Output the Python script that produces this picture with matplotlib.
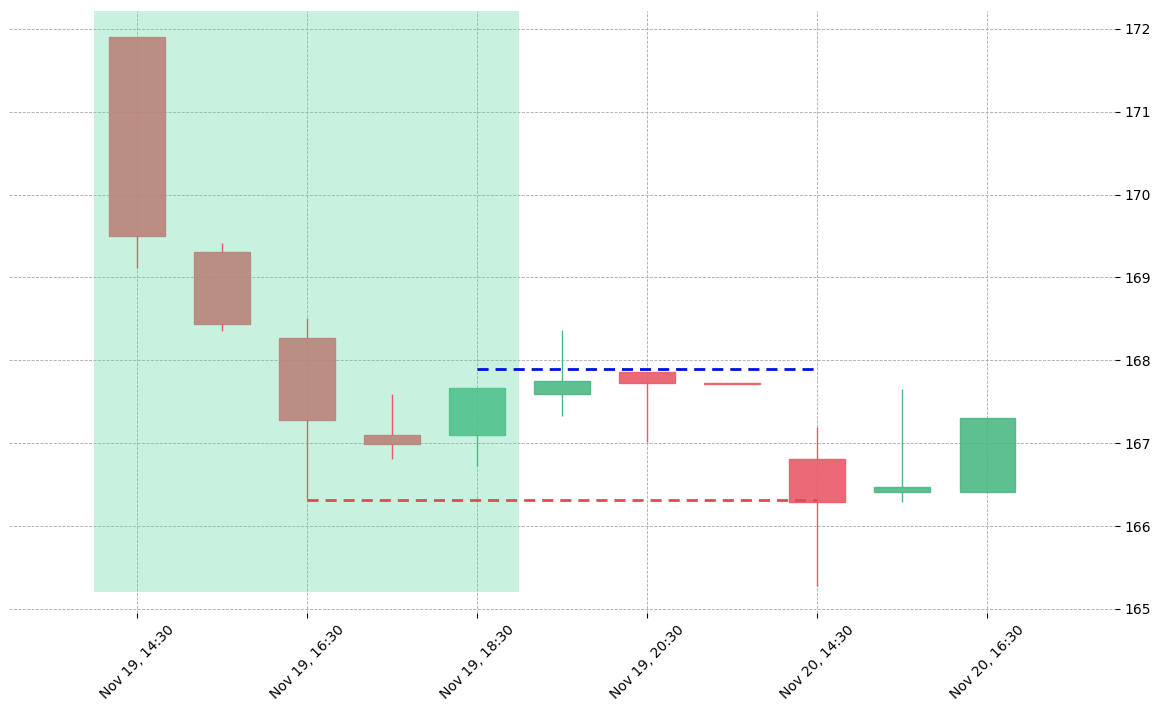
import matplotlib
matplotlib.use("Agg")
import matplotlib.pyplot as plt
from matplotlib.patches import Rectangle

labels = ["Nov 19, 14:30","Nov 19, 15:30","Nov 19, 16:30","Nov 19, 17:30","Nov 19, 18:30",
          "Nov 19, 19:30","Nov 19, 20:30","Nov 19, 21:30","Nov 20, 14:30","Nov 20, 15:30","Nov 20, 16:30"]
opens  = [171.90,169.31,168.27,167.10,167.10,167.59,167.86,167.73,166.81,166.41,166.41]
closes = [169.50,168.44,167.28,166.99,167.67,167.75,167.73,167.72,166.29,166.47,167.30]
highs  = [171.90,169.42,168.51,167.59,167.67,168.36,167.86,167.73,167.20,167.65,167.30]
lows   = [169.12,168.35,166.32,166.81,166.73,167.33,167.02,167.72,165.28,166.29,166.41]
res_level = 167.90
sup_level = 166.32

fig = plt.figure(figsize=(11.66,7.12), dpi=100)
ax = fig.add_axes([0.008,0.139,0.948,0.846])
red = '#ea5a68'; green = '#4cb884'
w = 0.65
for i,(o,c,h,l) in enumerate(zip(opens,closes,highs,lows)):
    col = green if c >= o else red
    top, bot = max(o,c), min(o,c)
    if h > top:
        ax.vlines(i, top, h, color=col, lw=1, zorder=4)
    if l < bot:
        ax.vlines(i, l, bot, color=col, lw=1, zorder=4)
    ax.add_patch(Rectangle((i-w/2, bot), w, max(top-bot,0.012), facecolor=col,
                           edgecolor=col, alpha=0.9, lw=1, zorder=2))
ax.add_patch(Rectangle((-0.5,165.2), 5.0, 7.1, facecolor='#5ad8a0', alpha=0.33, lw=0, zorder=3))
ax.hlines(res_level, 4, 8, colors='#0010e0', linestyles=(0,(4,2.5)), lw=2, zorder=5)
ax.hlines(sup_level, 2, 8, colors='#e04a58', linestyles=(0,(4,2.5)), lw=2, zorder=5)
ax.set_xlim(-1.5, 11.5)
ax.set_ylim(164.95, 172.22)
ax.yaxis.tick_right()
ax.set_yticks(range(165,173))
ax.set_xticks(range(0,11,2))
ax.set_xticklabels(labels[0::2], rotation=45)
ax.grid(True, color='#aaaaaa', ls='--', lw=0.6)
for s in ax.spines.values(): s.set_visible(False)
ax.tick_params(labelsize=10)
fig.savefig("out.png")
